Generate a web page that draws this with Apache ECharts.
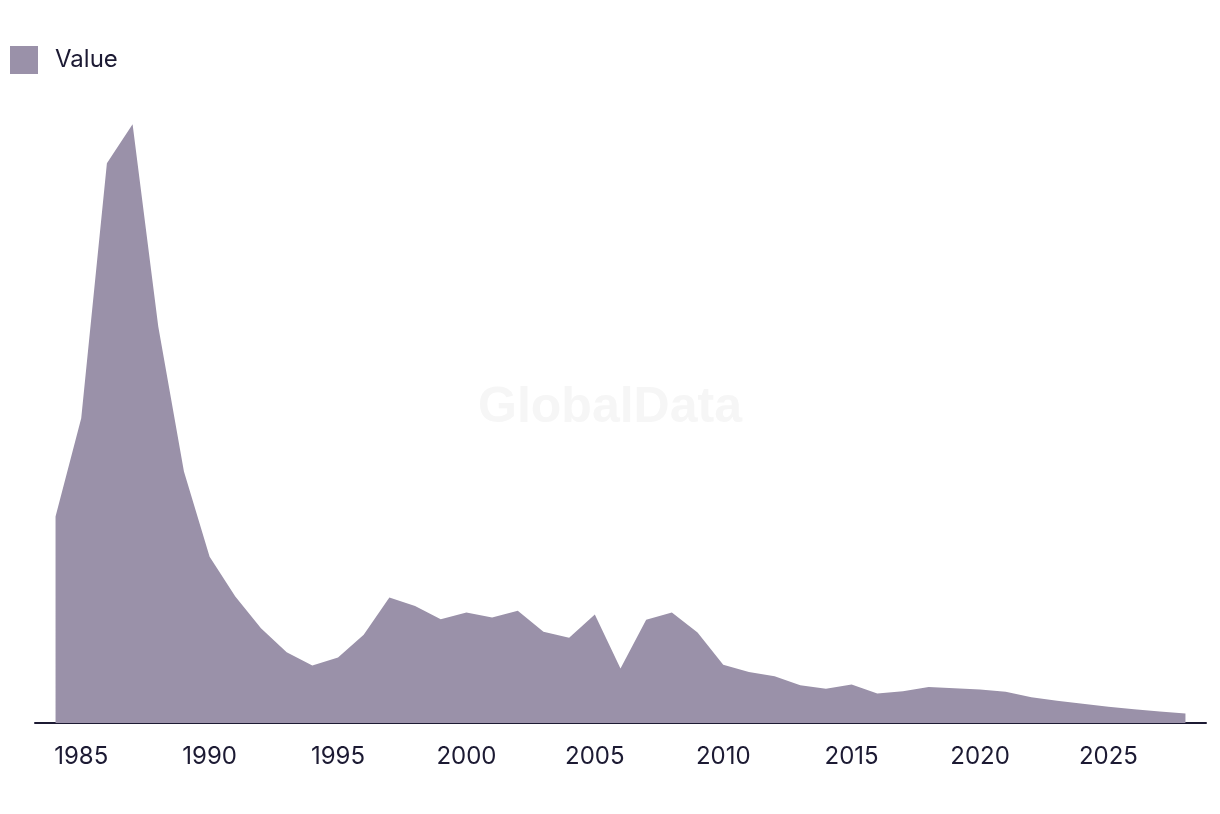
<!DOCTYPE html>
<html>
<head>
<meta charset="utf-8">
<script src="https://cdn.jsdelivr.net/npm/echarts@6/dist/echarts.min.js"></script>
<style>
html,body{margin:0;padding:0;background:#fff;}
#chart{width:1220px;height:814px;}
</style>
</head>
<body>
<div id="chart"></div>
<script>
var years = [1984,1985,1986,1987,1988,1989,1990,1991,1992,1993,1994,1995,1996,1997,1998,1999,2000,2001,2002,2003,2004,2005,2006,2007,2008,2009,2010,2011,2012,2013,2014,2015,2016,2017,2018,2019,2020,2021,2022,2023,2024,2025,2026,2027,2028];
var values = [34.4,50.8,93.3,99.8,66.1,41.9,27.7,21.1,15.8,11.8,9.6,10.9,14.7,20.9,19.5,17.3,18.4,17.6,18.7,15.2,14.2,18.1,9.1,17.2,18.4,15.1,9.7,8.5,7.8,6.3,5.7,6.4,4.9,5.3,6.0,5.8,5.6,5.2,4.3,3.7,3.2,2.7,2.3,1.9,1.6];
var tickYears = [1985,1990,1995,2000,2005,2010,2015,2020,2025];
var seriesName = 'Value';

var data = years.map(function(y,i){ return [y, values[i]]; });

var chart = echarts.init(document.getElementById('chart'), null, {renderer:'canvas'});
chart.setOption({
  animation:false,
  backgroundColor:'#ffffff',
  textStyle:{fontFamily:'Inter, Roboto, sans-serif'},
  graphic:[{
    type:'text',
    left:'center',
    top:383,
    z:-10,
    silent:true,
    style:{
      text:'GlobalData',
      font:'bold 50px "Liberation Sans", Arial, sans-serif',
      fill:'#f6f6f6'
    }
  }],
  legend:{
    left:10,
    top:46,
    padding:0,
    itemWidth:28,
    itemHeight:28,
    icon:'rect',
    data:[seriesName],
    textStyle:{fontSize:24,color:'#1c1a33',fontFamily:'Inter, Roboto, sans-serif',padding:[0,0,0,12]}
  },
  grid:{left:35,right:14,top:123,bottom:91,containLabel:false},
  xAxis:{
    type:'value',
    min:1983.2,
    max:2028.8,
    splitLine:{show:false},
    axisTick:{show:false},
    axisLine:{show:true,onZero:false,lineStyle:{color:'#1c1a33',width:2}},
    axisLabel:{
      customValues:tickYears,
      fontSize:24,
      color:'#1c1a33',
      margin:22,
      fontFamily:'Inter, Roboto, sans-serif',
      formatter:function(v){return String(v);}
    }
  },
  yAxis:{
    type:'value',
    min:0,
    max:100,
    show:false,
    splitLine:{show:false}
  },
  series:[{
    name:seriesName,
    type:'line',
    data:data,
    symbol:'none',
    showSymbol:false,
    lineStyle:{width:0,color:'#9a91a9'},
    itemStyle:{color:'#9a91a9'},
    areaStyle:{color:'#9a91a9',opacity:1}
  }]
});
</script>
</body>
</html>
